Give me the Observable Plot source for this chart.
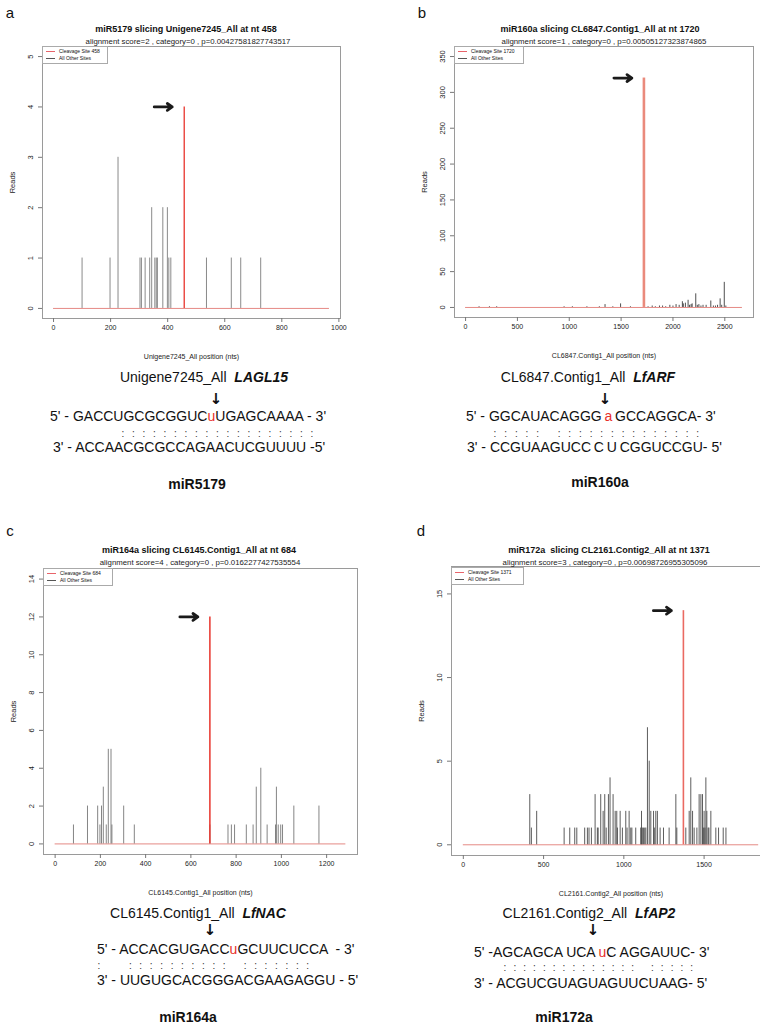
<!DOCTYPE html>
<html><head><meta charset="utf-8">
<script src="https://cdn.jsdelivr.net/npm/d3@7"></script>
<script src="https://cdn.jsdelivr.net/npm/@observablehq/plot@0.6"></script>
<style>
body{margin:0;background:#fff;font-family:"Liberation Sans",Arial,sans-serif;color:#111;}
#root{position:relative;width:760px;height:1029px;overflow:hidden;background:#fff;}
.abs{position:absolute;white-space:pre;line-height:1;}
.c{transform:translate(-50%,-50%);}
.l{transform:translate(0,-50%);}
.title{font-weight:bold;font-size:9px;}
.sub{font-size:7.8px;color:#222;}
.letter{font-size:15px;}
.gene{font-size:14px;}
.gene b{font-style:italic;}
.seq{font-size:14px;}
.seq span.r{color:#e8302a;}
.mir{font-size:14px;font-weight:bold;}
.down{font-family:"DejaVu Sans";font-size:15px;font-weight:bold;}
.legend{position:absolute;border:1px solid #aaa;background:#fff;font-size:5px;padding:1px 4px 1px 3px;line-height:7px;}
.legend i{display:inline-block;width:9px;height:0;border-top:1px solid;vertical-align:middle;margin-right:4px;}
.colons{position:absolute;font-size:10px;color:#333;transform:translate(0,-50%);}
.colons span{display:inline-block;text-align:center;}
svg{position:absolute;overflow:visible;}
</style></head><body><div id="root"></div><script>
// ---------- data ----------
const panelLetters = ["a", "b", "c", "d"];
const titles = [
  "miR5179 slicing Unigene7245_All at nt 458",
  "miR160a slicing CL6847.Contig1_All at nt 1720",
  "miR164a slicing CL6145.Contig1_All at nt 684",
  "miR172a  slicing CL2161.Contig2_All at nt 1371"
];
const subtitles = [
  "alignment score=2 , category=0 , p=0.00427581827743517",
  "alignment score=1 , category=0 , p=0.00505127323874865",
  "alignment score=4 , category=0 , p=0.0162277427535554",
  "alignment score=3 , category=0 , p=0.00698726955305096"
];
const xLabels = [
  "Unigene7245_All position (nts)",
  "CL6847.Contig1_All position (nts)",
  "CL6145.Contig1_All position (nts)",
  "CL2161.Contig2_All position (nts)"
];
const legendSite = ["Cleavage Site 458", "Cleavage Site 1720", "Cleavage Site 684", "Cleavage Site 1371"];
const legendOther = "All Other Sites";
const sites = [458, 1720, 684, 1371];
const siteReads = [4, 320, 12, 14];
const transcriptLengths = [967, 2670, 1285, 1840];
const yLimits = [5, 350, 14, 16];
const xTicks = [
  [0, 200, 400, 600, 800, 1000],
  [0, 500, 1000, 1500, 2000, 2500],
  [0, 200, 400, 600, 800, 1000, 1200],
  [0, 500, 1000, 1500]
];
const yTicks = [
  [0, 1, 2, 3, 4, 5],
  [0, 50, 100, 150, 200, 250, 300, 350],
  [0, 2, 4, 6, 8, 10, 12, 14],
  [0, 5, 10, 15]
];
const posA = [100, 198, 226, 303, 308, 321, 337, 344, 355, 360, 364, 383, 399, 404, 411, 536, 623, 656, 726];
const readsA = [1, 1, 3, 1, 1, 1, 1, 2, 1, 1, 1, 2, 2, 1, 1, 1, 1, 1, 1];
const posB = [130, 230, 300, 950, 1030, 1170, 1290, 1345, 1420, 1495, 1590, 1760, 1800, 1830, 1870, 1900, 1930, 1970, 2000, 2030, 2060, 2091, 2100, 2120, 2146, 2160, 2175, 2185, 2220, 2235, 2250, 2270, 2290, 2320, 2365, 2390, 2410, 2430, 2455, 2470, 2495, 2510];
const readsB = [1, 1, 1, 1, 1, 1, 1, 4, 1, 5, 1, 1, 2, 1, 2, 2, 1, 3, 2, 4, 3, 8, 5, 6, 10, 3, 4, 5, 19, 3, 4, 2, 3, 3, 9, 2, 2, 3, 12, 3, 35, 2];
const posC = [81, 143, 188, 198, 205, 213, 226, 235, 247, 251, 303, 350, 684, 764, 779, 793, 845, 875, 889, 909, 937, 974, 978, 986, 997, 1005, 1055, 1166];
const readsC = [1, 2, 2, 1, 2, 3, 1, 5, 5, 1, 2, 1, 1, 1, 1, 1, 1, 1, 3, 4, 1, 1, 3, 1, 1, 1, 2, 2];
const posD = [414, 424, 457, 628, 663, 694, 707, 756, 773, 783, 798, 821, 835, 840, 856, 871, 881, 890, 904, 914, 933, 946, 956, 960, 977, 991, 1012, 1020, 1033, 1043, 1050, 1074, 1105, 1110, 1115, 1122, 1130, 1137, 1147, 1158, 1168, 1185, 1190, 1199, 1209, 1226, 1247, 1282, 1324, 1330, 1386, 1407, 1417, 1428, 1438, 1455, 1469, 1480, 1490, 1495, 1500, 1505, 1511, 1517, 1525, 1530, 1542, 1573, 1590, 1619, 1636];
const readsD = [3, 1, 2, 1, 1, 1, 1, 1, 1, 1, 1, 3, 1, 1, 3, 2, 3, 1, 3, 4, 3, 2, 2, 1, 2, 1, 2, 1, 2, 1, 1, 1, 1, 2, 1, 1, 1, 1, 7, 5, 2, 2, 1, 2, 2, 1, 1, 1, 3, 1, 1, 2, 4, 2, 1, 1, 3, 3, 3, 1, 2, 1, 4, 2, 1, 1, 2, 1, 1, 1, 1];
const positions = [posA, posB, posC, posD];
const readCounts = [readsA, readsB, readsC, readsD];

const geneNames = ["Unigene7245_All", "CL6847.Contig1_All", "CL6145.Contig1_All", "CL2161.Contig2_All"];
const geneSymbols = ["LAGL15", "LfARF", "LfNAC", "LfAP2"];
const targetLeft = ["5' - GACCUGCGCGGUC", "5' - GGCAUACAGGG\u2009", "5' - ACCACGUGACC", "5' -AGCAGCA UCA\u2009"];
const targetSite = ["u", "a", "u", "u"];
const targetRight = ["UGAGCAAAA - 3'", "\u2009GCCAGGCA- 3'", "GCUUCUCCA  - 3'", "C AGGAUUC- 3'"];
const mirnaSeqs = ["3' - ACCAACGCGCCAGAACUCGUUUU -5'", "3' - CCGUAAGUCC\u2009C\u2009U\u2009CGGUCCGU- 5'", "3' - UUGUGCACGGGACGAAGAGGU - 5'", "3' - ACGUCGUAGUAGUUCUAAG- 5'"];
const pairing = [":::::::::::::::::::", "::::: ::::::::::::::", ":  :::::::::: :::::::", ":::::::::::::: :::::"];
const mirnaNames = ["miR5179", "miR160a", "miR164a", "miR172a"];

// ---------- layout (page pixels) ----------
const layout = [
  {left: 0,   top: 40,  width: 380, height: 330, mL: 42, mR: 40, mT: 6, mB: 52, letter:[10,12], title:[186,29], sub:[188,42], legend:[42,46,66],
   gene:[204,377], down:[216,399], seq5:[50,416], col:[123,312,433], seq3:[53,447], mir:[197,484], redW:1.3, redC:"#e8342c", barC:"#6c6c6c"},
  {left: 380, top: 40,  width: 380, height: 330, mL: 74, mR: 7, mT: 6, mB: 53, letter:[422,12], title:[600,29], sub:[604,42], legend:[454,46,70],
   gene:[588,377], down:[605,399], seq5:[466,416], col:[495,698,433], seq3:[467,447], mir:[600,482], redW:2.6, redC:"#ea8a7c", barC:"#222"},
  {left: 0,   top: 560, width: 380, height: 350, mL: 43, mR: 23, mT: 8, mB: 56, letter:[10,530], title:[199,550], sub:[200,563], legend:[43,568,70],
   gene:[198,913], down:[210,930], seq5:[97,949], col:[99,308,965], seq3:[97,980], mir:[188,1017], redW:1.5, redC:"#e8342c", barC:"#666"},
  {left: 380, top: 560, width: 400, height: 350, mL: 71, mR: 10, mT: 6, mB: 55, letter:[421,530], title:[609,550], sub:[605,563], legend:[451,567,73],
   gene:[589,913], down:[593,930], seq5:[474,952], col:[505,692,967], seq3:[474,983], mir:[564,1017], redW:1.6, redC:"#ea6a62", barC:"#333"}
];

const root = document.getElementById("root");
function addText(x, y, html, cls, anchor = "c") {
  const d = document.createElement("div");
  d.className = "abs " + anchor + " " + cls;
  d.style.left = x + "px";
  d.style.top = y + "px";
  d.innerHTML = html;
  root.appendChild(d);
  return d;
}

for (let i = 0; i < 4; i++) {
  const g = layout[i];
  const L = transcriptLengths[i], ym = yLimits[i];
  const xd = [-0.04 * L, 1.04 * L], yd = [-0.04 * ym, 1.04 * ym];
  const fw = g.width - g.mL - g.mR;
  const pxPerUnit = fw / (xd[1] - xd[0]);
  const bars = positions[i].map((p, k) => ({pos: p, reads: readCounts[i][k]}));
  const site = [{pos: sites[i], reads: siteReads[i]}];
  const arrow = [{x1: sites[i] - 30 / pxPerUnit, x2: sites[i] - 12 / pxPerUnit, y: siteReads[i]}];
  const base = [{y: 0, x1: 0, x2: L}];
  const svg = Plot.plot({
    width: g.width, height: g.height,
    marginLeft: g.mL, marginRight: g.mR, marginTop: g.mT, marginBottom: g.mB,
    style: {fontFamily: "'Liberation Sans', Arial, sans-serif", fontSize: "7.5px", color: "#222", background: "transparent", overflow: "visible"},
    x: {domain: xd},
    y: {domain: yd},
    marks: [
      Plot.frame({stroke: "#9a9a9a"}),
      Plot.axisX({ticks: xTicks[i], tickFormat: d => String(d), tickSize: 4, tickPadding: 3, label: xLabels[i], labelAnchor: "center", labelOffset: 40, labelArrow: "none", stroke: "#777", fontSize: 7}),
      Plot.axisY({ticks: yTicks[i], tickFormat: d => String(d), tickSize: 4, tickPadding: 6, tickRotate: -90, label: "Reads", labelAnchor: "center", labelOffset: 33, labelArrow: "none", stroke: "#777"}),
      Plot.ruleY(base, {y: "y", x1: "x1", x2: "x2", stroke: "#e58a85", strokeWidth: 1}),
      Plot.ruleX(bars, {x: "pos", y1: 0, y2: "reads", stroke: g.barC, strokeWidth: 0.8}),
      Plot.ruleX(site, {x: "pos", y1: 0, y2: "reads", stroke: g.redC, strokeWidth: g.redW}),
      Plot.arrow(arrow, {x1: "x1", x2: "x2", y1: "y", y2: "y", stroke: "#1a1a1a", strokeWidth: 2.8, headLength: 7, headAngle: 70})
    ]
  });
  svg.style.left = g.left + "px";
  svg.style.top = g.top + "px";
  root.appendChild(svg);

  // legend
  const lg = document.createElement("div");
  lg.className = "legend";
  lg.style.left = g.legend[0] + "px";
  lg.style.top = g.legend[1] + "px";
  lg.style.width = (g.legend[2] - 9) + "px";
  lg.innerHTML = `<div><i style="border-color:#e8646a"></i>${legendSite[i]}</div><div><i style="border-color:#555"></i>${legendOther}</div>`;
  root.appendChild(lg);

  addText(g.letter[0], g.letter[1], panelLetters[i], "letter");
  addText(g.title[0], g.title[1], titles[i], "title");
  addText(g.sub[0], g.sub[1], subtitles[i], "sub");
  addText(g.gene[0], g.gene[1], geneNames[i] + "  <b>" + geneSymbols[i] + "</b>", "gene");
  addText(g.down[0], g.down[1], "\u2193", "down");
  addText(g.seq5[0], g.seq5[1], targetLeft[i] + `<span class="r">${targetSite[i]}</span>` + targetRight[i], "seq", "l");
  addText(g.seq3[0], g.seq3[1], mirnaSeqs[i], "seq", "l");
  addText(g.mir[0], g.mir[1], mirnaNames[i], "mir");
  // pairing row
  const pr = pairing[i];
  const step = (g.col[1] - g.col[0]) / (pr.length - 1);
  const cd = document.createElement("div");
  cd.className = "colons";
  cd.style.left = (g.col[0] - step / 2) + "px";
  cd.style.top = g.col[2] + "px";
  cd.innerHTML = pr.split("").map(ch => `<span style="width:${step}px">${ch === ":" ? ":" : "&nbsp;"}</span>`).join("");
  root.appendChild(cd);
}
</script></body></html>
